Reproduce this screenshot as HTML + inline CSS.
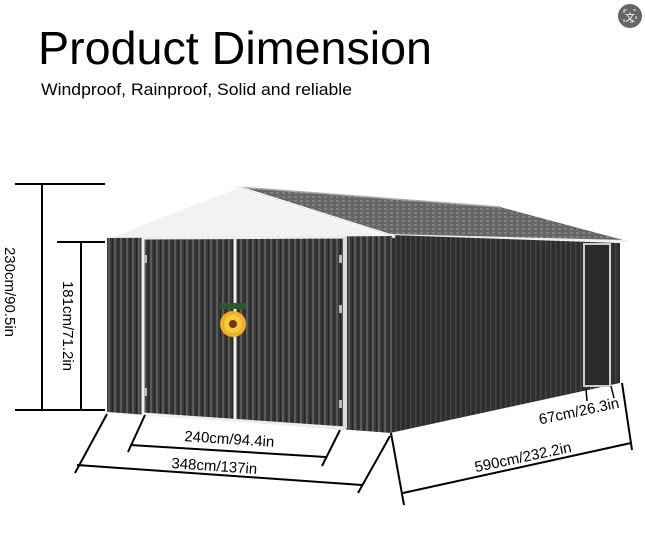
<!DOCTYPE html>
<html><head><style>
html,body{margin:0;padding:0;background:#fff;}
svg{display:block;}
</style></head><body>
<svg width="645" height="548" viewBox="0 0 645 548" xmlns="http://www.w3.org/2000/svg" font-family="Liberation Sans, sans-serif">
<defs>
<pattern id="st" width="6" height="10" patternUnits="userSpaceOnUse">
<rect width="6" height="10" fill="#383838"/><rect x="0" width="2" height="10" fill="#5a5a5a"/><rect x="4" width="1" height="10" fill="#262626"/>
</pattern>
<pattern id="st2" width="5" height="10" patternUnits="userSpaceOnUse">
<rect width="5" height="10" fill="#2e2e2e"/><rect x="0" width="1.5" height="10" fill="#444"/>
</pattern>
<pattern id="rf" width="6" height="4" patternUnits="userSpaceOnUse">
<rect width="6" height="4" fill="#666"/><rect width="3" height="2" fill="#808080"/>
</pattern>
</defs>
<rect width="645" height="548" fill="#fff"/>
<circle cx="630" cy="16" r="12" fill="#666"/>
<rect x="624" y="10" width="12" height="12" fill="none" stroke="#eee" stroke-width="1" stroke-dasharray="3 6"/>
<text x="630" y="21" font-size="10" fill="#fff" text-anchor="middle">文</text>
<text x="38" y="64" font-size="46" textLength="394" lengthAdjust="spacingAndGlyphs">Product Dimension</text>
<text x="41" y="95" font-size="17" textLength="311" lengthAdjust="spacingAndGlyphs">Windproof, Rainproof, Solid and reliable</text>

<!-- roof -->
<polygon points="237,187 500,207 627,241 390,235" fill="url(#rf)"/>
<line x1="237" y1="187" x2="500" y2="207" stroke="#aaa" stroke-width="1.5"/>
<line x1="390" y1="235" x2="627" y2="241" stroke="#eee" stroke-width="2"/>
<!-- side wall -->
<polygon points="390,235 620,243 620,383 390,433" fill="url(#st2)"/>
<rect x="584" y="244" width="26" height="142" fill="#2a2a2a" stroke="#ccc" stroke-width="2"/>
<!-- front gable -->
<polygon points="98,240 237,187 395,237" fill="#f2f2f2"/>
<polyline points="98,241 237,187 395,237" fill="none" stroke="#fff" stroke-width="3"/>
<line x1="237" y1="187" x2="395" y2="237" stroke="#ddd" stroke-width="1"/>
<!-- front wall -->
<polygon points="107,238 392,236 392,433 107,412" fill="url(#st)"/>
<polygon points="143,238 345,237 345,428 143,414" fill="url(#st)" stroke="#eee" stroke-width="3"/>
<line x1="235" y1="238" x2="235" y2="421" stroke="#eee" stroke-width="3"/>
<line x1="345" y1="237" x2="345" y2="428" stroke="#ddd" stroke-width="4"/>
<g fill="#bbb"><rect x="144" y="255" width="3" height="8"/><rect x="144" y="388" width="3" height="8"/><rect x="339" y="255" width="3" height="8"/><rect x="339" y="305" width="3" height="8"/><rect x="339" y="400" width="3" height="8"/></g>
<!-- sunflower -->
<rect x="220" y="303" width="26" height="6" rx="2" fill="#2d5a2d"/>
<circle cx="233" cy="324" r="13" fill="#f0b020"/>
<circle cx="233" cy="324" r="9" fill="#f7c840"/>
<circle cx="233" cy="324" r="4" fill="#6a3a10"/>

<!-- dimension lines -->
<g stroke="#000" stroke-width="2" fill="none">
<line x1="15" y1="184" x2="105" y2="184"/>
<line x1="15" y1="410" x2="105" y2="410"/>
<line x1="57" y1="242" x2="105" y2="242"/>
<line x1="42" y1="184" x2="42" y2="410"/>
<line x1="81" y1="242" x2="81" y2="410"/>
<line x1="145" y1="415" x2="128" y2="452"/>
<line x1="340" y1="430" x2="322" y2="466"/>
<line x1="130" y1="445" x2="326" y2="457"/>
<line x1="107" y1="414" x2="75" y2="473"/>
<line x1="390" y1="436" x2="358" y2="493"/>
<line x1="77" y1="465" x2="362" y2="485"/>
<line x1="391" y1="433" x2="404" y2="505"/>
<line x1="403" y1="493" x2="631" y2="443"/>
<line x1="622" y1="383" x2="632" y2="450"/>
<line x1="586" y1="389" x2="587" y2="401" stroke-width="1.5"/>
<line x1="611" y1="386" x2="614" y2="398" stroke-width="1.5"/>
</g>
<g font-size="15" fill="#000" text-anchor="middle">
<text transform="translate(5,292) rotate(90)">230cm/90.5in</text>
<text transform="translate(63,326) rotate(90)">181cm/71.2in</text>
<text transform="translate(229,444) rotate(3.7)">240cm/94.4in</text>
<text transform="translate(214,471) rotate(4)">348cm/137in</text>
<text transform="translate(524,462) rotate(-12)">590cm/232.2in</text>
<text transform="translate(580,416) rotate(-12)">67cm/26.3in</text>
</g>
</svg>
</body></html>
